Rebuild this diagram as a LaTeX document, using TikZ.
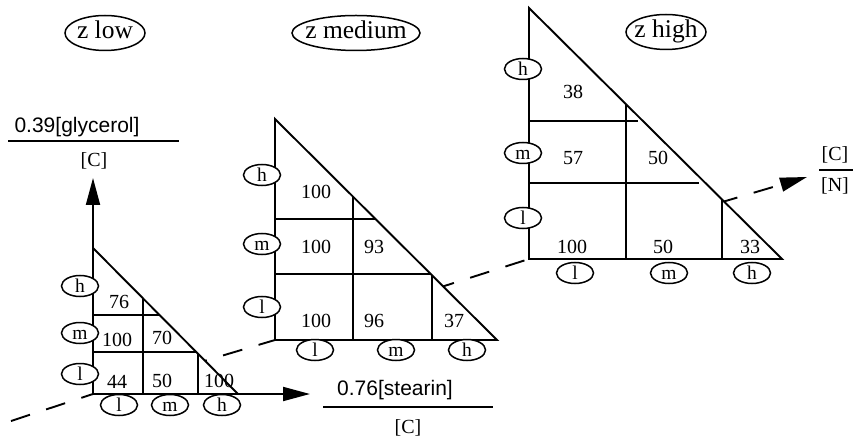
\documentclass[tikz,border=0pt]{standalone}
\usepackage{fontspec}
\setmainfont{Liberation Serif}
\setsansfont{Liberation Sans}
\usepackage{tikz}
\usetikzlibrary{arrows.meta,shapes.geometric}

\begin{document}
\begin{tikzpicture}[>={Triangle[length=27pt,width=14pt]},x=1pt,y=-1pt,line width=1.9pt,
  lvl/.style={draw,ellipse,fill=white,line width=1.5pt,inner xsep=-30pt,inner ysep=0pt,text height=13pt,text depth=0pt,minimum width=37pt,minimum height=21pt,font=\fontsize{19.5}{19.5}\selectfont},
  zlab/.style={draw,ellipse,line width=1.5pt,inner xsep=-30pt,inner ysep=0pt,text height=17.5pt,text depth=5.5pt,minimum height=35pt,font=\fontsize{25.5}{26}\selectfont},
  val/.style={inner sep=0pt,font=\fontsize{20}{20}\selectfont},
  conc/.style={inner sep=0pt,font=\sffamily\fontsize{21}{21}\selectfont}]
\useasboundingbox (0,0) rectangle (853,438);
% axes: stearin, glycerol, and the dashed C/N axis through the three origins
\coordinate (o1) at (93,394);\coordinate (o2) at (275,340);\coordinate (o3) at (529,259);
\coordinate (cnstart) at (11,421);\coordinate (cntip) at (807,177);
\coordinate (gtip) at (93,178);\coordinate (stip) at (310,394);
\draw[->,dash pattern=on 20pt off 17pt] (cnstart)--(o1)--(o2)--(o3)--(cntip);
\draw[->] (o1)--(gtip);\draw[->] (o1)--(stip);
% z low
\draw[fill=white] (o1)--(93,248)--(238,394)--cycle;
\draw (143,394)--(143,298) (198,394)--(198,354) (93,315)--(160,315) (93,352)--(197,352);
\node[val] (lowLL) at (117,382){44};\node[val] (lowML) at (162,381){50};\node[val] (lowHL) at (219,381){100};
\node[val] (lowLM) at (117,340){100};\node[val] (lowMM) at (162,338){70};
\node[val] (lowLH) at (119,302){76};
\node[lvl] (lowgh) at (80,286){h};\node[lvl] (lowgm) at (80,333){m};\node[lvl] (lowgl) at (80,374){l};
\node[lvl] (lowsl) at (119,405){l};\node[lvl] (lowsm) at (170,405){m};\node[lvl] (lowsh) at (222,405){h};
% z medium
\draw[fill=white] (o2)--(275,119)--(497,340)--cycle;
\draw (353,340)--(353,197) (432,340)--(432,275) (275,219)--(375,219) (275,274)--(431,274);
\node[val] (medLL) at (316,321){100};\node[val] (medML) at (374,321){96};\node[val] (medHL) at (454,321){37};
\node[val] (medLM) at (316,247){100};\node[val] (medMM) at (374,247){93};
\node[val] (medLH) at (316,192){100};
\node[lvl] (medgh) at (262,175){h};\node[lvl] (medgm) at (262,244){m};\node[lvl] (medgl) at (262,307){l};
\node[lvl] (medsl) at (315,350){l};\node[lvl] (medsm) at (396,350){m};\node[lvl] (medsh) at (467,350){h};
% z high
\draw[fill=white] (o3)--(529,8)--(782,259)--cycle;
\draw (626,259)--(626,104) (722,259)--(722,200) (529,121)--(638,121) (529,183)--(699,183);
\node[val] (hiLL) at (572,247){100};\node[val] (hiML) at (663,247){50};\node[val] (hiHL) at (750,247){33};
\node[val] (hiLM) at (573,158){57};\node[val] (hiMM) at (658,158){50};
\node[val] (hiLH) at (573,92){38};
\node[lvl] (higgh) at (523,69){h};\node[lvl] (higgm) at (523,153){m};\node[lvl] (higgl) at (523,218){l};
\node[lvl] (higsl) at (575,273){l};\node[lvl] (higsm) at (669,273){m};\node[lvl] (higsh) at (752,273){h};
% z levels
\node[zlab,minimum width=80pt] (zlow) at (105,33){z low};
\node[zlab,minimum width=128pt] (zmed) at (356,33){z medium};
\node[zlab,minimum width=80pt] (zhigh) at (666,32){z high};
% axis labels
\node[conc] (glyc) at (77,127){0.39[glycerol]};\draw[line width=1.4pt] (8,141)--(179,141);
\node[val] (glycc) at (94,161){[C]};
\node[conc] (stear) at (395,390){0.76[stearin]};\draw[line width=1.4pt] (323,407)--(493,407);
\node[val] (stearc) at (408,428){[C]};
\node[val] (cnc) at (835,155){[C]};\draw[line width=1.4pt] (819,170)--(853,170);
\node[val] (cnn) at (835,186){[N]};
\end{tikzpicture}
\end{document}
